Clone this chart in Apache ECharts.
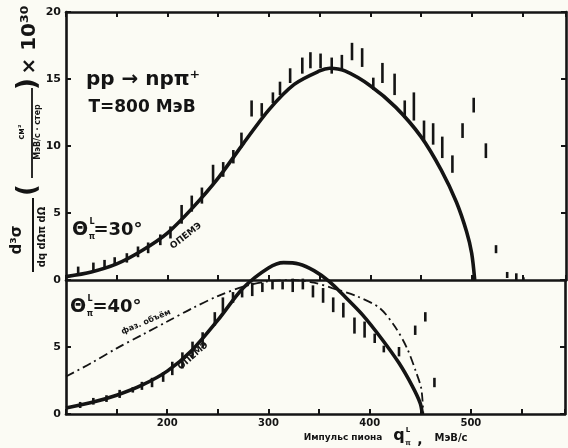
<!DOCTYPE html>
<html><head><meta charset="utf-8">
<script src="https://cdn.jsdelivr.net/npm/echarts@6/dist/echarts.min.js"></script>
<style>html,body{margin:0;padding:0;background:#fbfbf4;}#c{width:568px;height:448px;}</style>
</head><body><div id="c"></div>
<script>
// ---- data (pion lab momentum, MeV/c ; d3sigma x 10^30) ----
const curve30X = [100,125,150,175,200,225,250,275,300,325,350,360,375,400,425,450,470,485,495,500,503];
const curve30Y = [0.25,0.6,1.2,2.2,3.5,5.4,7.6,10.2,12.7,14.6,15.6,15.8,15.6,14.5,12.9,10.7,8.2,5.8,3.6,2.0,0];
const pts30X  = [112,127,138,148,160,171,181,193,203,214,224,234,245,255,265,273,283,293,304,311,321,333,341,351,362,372,382,392,403,412,424,434,443,453,462,471,481,491,502,514,524,535,544,551];
const pts30Lo = [0.4,0.6,0.9,1.1,1.3,1.7,2.0,2.6,3.1,4.2,5.1,5.7,7.2,7.7,8.7,9.9,12.2,12.2,13.2,13.8,14.7,15.4,15.8,15.8,15.4,15.7,16.4,15.9,14.2,14.7,13.8,12.1,11.9,10.4,10.1,9.1,8.0,10.6,12.5,9.1,2.0,0.15,0,0];
const pts30Hi = [1.0,1.3,1.5,1.7,2.0,2.5,2.8,3.4,4.0,5.6,6.3,6.9,8.6,8.8,9.7,11.0,13.4,13.2,14.0,14.8,15.8,16.6,17.0,16.9,16.6,16.8,17.7,17.3,15.1,16.2,15.4,13.4,14.0,11.9,11.7,10.7,9.3,11.7,13.6,10.2,2.6,0.6,0.5,0.2];

const curve40X = [100,125,150,175,200,225,250,275,300,315,330,345,360,375,393,412,429,442,450,452];
const curve40Y = [0.45,0.85,1.4,2.15,3.2,4.8,7.0,9.4,10.9,11.3,11.2,10.7,9.9,8.8,7.4,5.6,3.8,2.1,0.8,0];
const phase40X = [100,125,150,175,200,225,250,275,300,325,345,363,387,410,426,437,446,451,453];
const phase40Y = [2.8,3.8,4.9,5.9,6.9,7.9,8.8,9.5,9.9,10.0,9.8,9.4,8.8,7.9,6.4,4.9,3.1,1.9,0];
const pts40X  = [114,127,140,153,166,175,185,196,205,215,225,235,247,255,265,274,284,294,304,314,324,334,344,354,364,374,385,395,405,414,429,445,455,464];
const pts40Lo = [0.45,0.7,0.9,1.2,1.6,1.8,2.0,2.4,2.9,3.4,4.2,4.9,6.6,7.6,8.3,8.7,8.8,9.1,9.3,9.3,9.1,9.3,8.7,8.3,7.6,7.2,6.0,5.7,5.3,4.6,4.3,5.9,6.9,2.0];
const pts40Hi = [0.9,1.2,1.4,1.8,2.0,2.4,2.7,3.1,3.9,4.6,5.4,6.1,7.6,8.7,9.1,9.4,9.8,9.8,10.0,9.9,10.1,10.1,9.6,9.4,8.7,8.3,7.2,6.9,6.0,5.1,5.0,6.6,7.6,2.7];

const xLabelValues = [200,300,400,500];
const yTopLabels = [0,5,10,15,20];
const yBottomLabels = [0,5];

const zip = (a,b) => a.map((v,i)=>[v,b[i]]);
const zip3 = (a,b,c) => a.map((v,i)=>[v,b[i],c[i]]);

const INK = '#141414';
const FONT = 'DejaVu Sans';
function errBar(params, api){
  const x = api.value(0), lo = api.value(1), hi = api.value(2);
  const p1 = api.coord([x, lo]), p2 = api.coord([x, hi]);
  return {type:'line', shape:{x1:p1[0], y1:p1[1], x2:p2[0], y2:p2[1]}, style:{stroke:INK, lineWidth:2.6}};
}
const tick = {show:true, inside:true, length:5, lineStyle:{color:INK, width:2}};
const line = {show:true, onZero:false, lineStyle:{color:INK, width:2.6}};
const lblStyle = {color:INK, fontFamily:FONT, fontWeight:'bold', fontSize:11};

function xAx(grid, pos, labels){
  return {type:'value', gridIndex:grid, position:pos, min:100, max:593, interval:50,
    axisLine:line, axisTick:tick, splitLine:{show:false},
    axisLabel: labels ? Object.assign({show:true, margin:4,
      formatter: v => xLabelValues.includes(v) ? String(v) : ''}, lblStyle, {fontSize:10}) : {show:false}};
}
function yAx(grid, pos, max, labels, list){
  return {type:'value', gridIndex:grid, position:pos, min:0, max:max, interval:5,
    axisLine:line, axisTick:tick, splitLine:{show:false},
    axisLabel: labels ? Object.assign({show:true, margin:5,
      formatter: v => list.includes(v) ? String(v) : ''}, lblStyle) : {show:false}};
}

const chart = echarts.init(document.getElementById('c'), null, {renderer:'canvas'});
const t = (text, x, y, size, extra) => Object.assign({type:'text', x:x, y:y,
  style:Object.assign({text:text, fill:INK, font:'bold '+size+'px "'+FONT+'"',
    align:'center', verticalAlign:'middle', textAlign:'center', textVerticalAlign:'middle'}, extra||{})});

chart.setOption({
  backgroundColor:'#fbfbf4',
  animation:false,
  grid:[{left:66, top:12, width:500, height:268}, {left:66, top:280, width:500, height:134}],
  xAxis:[xAx(0,'bottom',false), xAx(0,'top',false), xAx(1,'bottom',true)],
  yAxis:[yAx(0,'left',20,true,yTopLabels), yAx(0,'right',20,false), yAx(1,'left',10,true,yBottomLabels), yAx(1,'right',10,false)],
  series:[
    {type:'line', xAxisIndex:0, yAxisIndex:0, data:zip(curve30X,curve30Y), smooth:0.3, showSymbol:false,
      lineStyle:{color:INK, width:3.6}, clip:false, z:3},
    {type:'custom', xAxisIndex:0, yAxisIndex:0, data:zip3(pts30X,pts30Lo,pts30Hi), renderItem:errBar, clip:false, z:4},
    {type:'line', xAxisIndex:2, yAxisIndex:2, data:zip(curve40X,curve40Y), smooth:0.3, showSymbol:false,
      lineStyle:{color:INK, width:3.6}, clip:false, z:3},
    {type:'line', xAxisIndex:2, yAxisIndex:2, data:zip(phase40X,phase40Y), smooth:0.3, showSymbol:false,
      lineStyle:{color:INK, width:1.8, type:[9,4,2,4]}, clip:false, z:2},
    {type:'custom', xAxisIndex:2, yAxisIndex:2, data:zip3(pts40X,pts40Lo,pts40Hi), renderItem:errBar, clip:false, z:4}
  ],
  graphic:[
    t('pp → npπ⁺', 143, 80, 20),
    t('T=800 МэВ', 142, 108, 17),
    t('Θ', 80, 230, 19), t('L', 92, 222, 8), t('π', 92, 237, 8), t('=30°', 118, 230, 18),
    t('Θ', 78, 307, 19), t('L', 90, 299, 8), t('π', 90, 314, 8), t('=40°', 117, 307, 18),
    Object.assign(t('ОПЕМЭ', 186, 236, 9), {rotation: 0.66}),
    Object.assign(t('ОПЕМЭ', 193, 356, 9), {rotation: 0.72}),
    Object.assign(t('фаз. объём', 146, 322, 8), {rotation: 0.40}),
    t('Импульс пиона', 343, 438, 9),
    t('q', 399, 436, 16), t('L', 408, 430, 7), t('π', 408, 443, 7),
    t(',', 420, 440, 14),
    t('МэВ/с', 451, 438, 10),
    {type:'group', x:30, y:150, rotation:Math.PI/2, children:[
      t('d³σ', -90, -13, 15),
      {type:'line', shape:{x1:-122, y1:3, x2:-48, y2:3}, style:{stroke:INK, lineWidth:2}},
      t('dq dΩπ dΩ', -87, 12, 10),
      t('(', -40, -2, 26),
      t('см²', 18, -8, 8),
      {type:'line', shape:{x1:-28, y1:2, x2:62, y2:2}, style:{stroke:INK, lineWidth:1.8}},
      t('МэВ/с · стер', 18, 8, 8),
      t(')', 66, -2, 26),
      t('× 10³⁰', 110, 0, 20)
    ]}
  ]
});
</script>
</body></html>
